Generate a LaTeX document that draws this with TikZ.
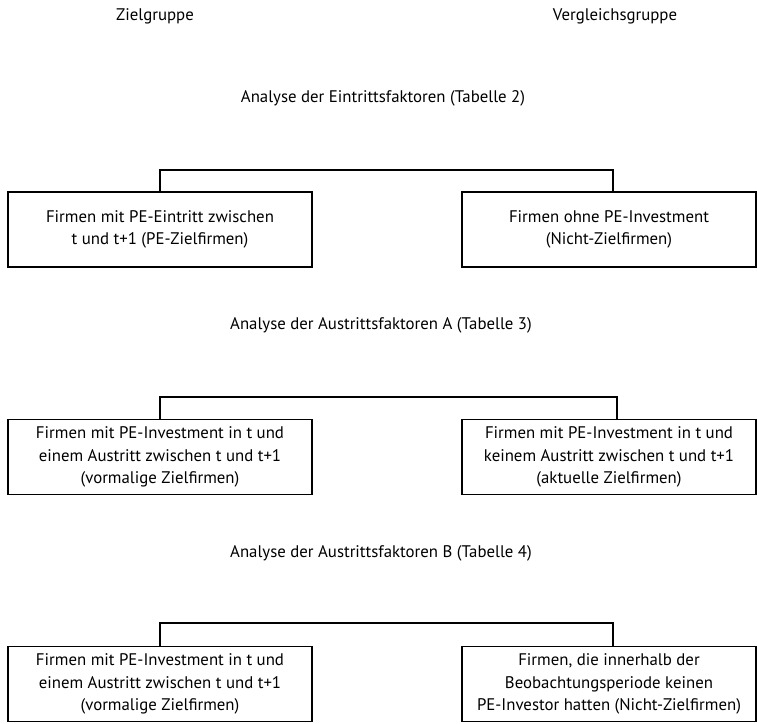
\documentclass[tikz,border=0pt]{standalone}
\usepackage{fontspec}
\setmainfont{PT Sans}
\begin{document}
\begin{tikzpicture}[x=1pt,y=-1pt,
  lbl/.style={font=\fontsize{16.8}{22.5}\selectfont, inner sep=0pt},
  box/.style={draw, line width=1.2pt, align=center, minimum height=75pt, inner sep=0pt, font=\fontsize{16.8}{22.5}\selectfont},
  lbox/.style={box, minimum width=304pt},
  rbox/.style={box, minimum width=294pt},
  conn/.style={draw, line width=1.2pt}]
\useasboundingbox (0,0) rectangle (757,723);
\node[lbl] (zg) at (155,16) {Zielgruppe};
\node[lbl] (vg) at (615,16) {Vergleichsgruppe};

\node[lbl] (t1) at (383,98) {Analyse der Eintrittsfaktoren (Tabelle 2)};
\node[lbox] (l1) at (160,229.5) {Firmen mit PE-Eintritt zwischen\\t und t+1 (PE-Zielfirmen)};
\node[rbox] (r1) at (609,229.5) {Firmen ohne PE-Investment\\(Nicht-Zielfirmen)};
\coordinate (a1) at ([xshift=4pt]r1.north);
\coordinate (h1) at (0,170);
\draw[conn] (l1.north) |- (h1 -| a1) -- (a1);

\node[lbl] (t2) at (381,325) {Analyse der Austrittsfaktoren A (Tabelle 3)};
\node[lbox] (l2) at (160,457) {Firmen mit PE-Investment in t und\\einem Austritt zwischen t und t+1\\(vormalige Zielfirmen)};
\node[rbox] (r2) at (609,457) {Firmen mit PE-Investment in t und\\keinem Austritt zwischen t und t+1\\(aktuelle Zielfirmen)};
\coordinate (a2) at ([xshift=8pt]r2.north);
\coordinate (h2) at (0,397);
\draw[conn] (l2.north) |- (h2 -| a2) -- (a2);

\node[lbl] (t3) at (381,553) {Analyse der Austrittsfaktoren B (Tabelle 4)};
\node[lbox] (l3) at (160,684) {Firmen mit PE-Investment in t und\\einem Austritt zwischen t und t+1\\(vormalige Zielfirmen)};
\node[rbox] (r3) at (609,684) {Firmen, die innerhalb der\\Beobachtungsperiode keinen\\PE-Investor hatten (Nicht-Zielfirmen)};
\coordinate (a3) at ([xshift=4pt]r3.north);
\coordinate (h3) at (0,623);
\draw[conn] (l3.north) |- (h3 -| a3) -- (a3);
\end{tikzpicture}
\end{document}
